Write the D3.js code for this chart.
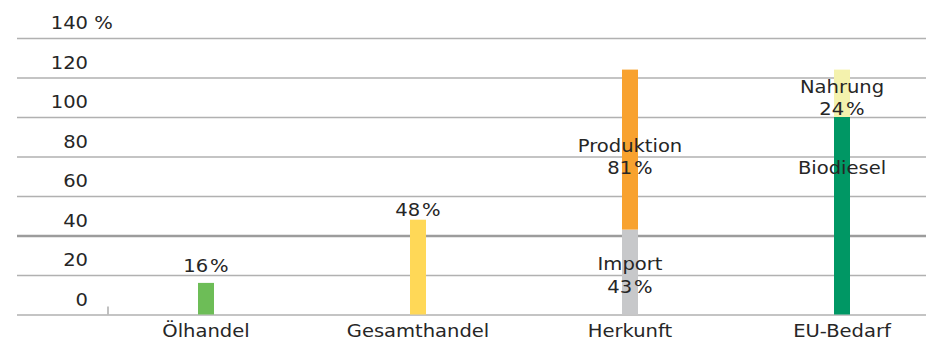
<!DOCTYPE html>
<html>
<head>
<meta charset="utf-8">
<script src="https://cdn.jsdelivr.net/npm/d3@7"></script>
<style>
  html, body { margin: 0; padding: 0; background: #fff; }
  svg { display: block; }
  text { font-family: "DejaVu Sans", Verdana, sans-serif; font-size: 17px; fill: #262626; }
</style>
</head>
<body>
<svg id="chart" width="926" height="342"></svg>
<script>
// Categories along the x axis
const categories = ["Ölhandel", "Gesamthandel", "Herkunft", "EU-Bedarf"];

// Bar segments (stacked within their category, bottom to top)
const segCategory = ["Ölhandel", "Gesamthandel", "Herkunft", "Herkunft", "EU-Bedarf", "EU-Bedarf"];
const segName     = ["", "", "Import", "Produktion", "Biodiesel", "Nahrung"];
const segValues   = [16, 48, 43, 81, 100, 24];
const segShowValue = [true, true, true, true, false, true];
const segColors   = ["#6dbd57", "#ffd857", "#c7c8ca", "#f8a22f", "#009764", "#f4f2ad"];

// Value axis ticks
const yTicks = [0, 20, 40, 60, 80, 100, 120, 140];

// Label placement: "above" the bar or "inside" the segment, with a small vertical nudge
const labelMode = ["above", "above", "inside", "inside", "inside", "inside"];
const labelNudge = [-11, -4, -2, 2.4, -41.7, -0.6];

const W = 926, H = 342;
const svg = d3.select("#chart");
const STRETCH = 1.15;   // wide lettering
const LINE = 22.5;

const y = d3.scaleLinear().domain([0, 140]).range([314.5, 38]);
const x = d3.scalePoint().domain(categories).range([100, 948]).padding(0.5);

const pct = v => v + "\u200a%";

// helper: stretched text anchored at (px, py)
function label(parent, px, py, str, anchor) {
  return parent.append("g")
    .attr("transform", `translate(${px},${py}) scale(${STRETCH},1)`)
    .append("text")
    .attr("text-anchor", anchor || "middle")
    .text(str);
}

// Gridlines + value labels via a left axis
const yAxis = d3.axisLeft(y).tickValues(yTicks).tickSize(W - 17).tickFormat(d => d);
const gy = svg.append("g").attr("transform", `translate(${W},0)`).call(yAxis);
gy.select(".domain").remove();
gy.selectAll(".tick line")
  .attr("stroke", d => d === 40 ? "#9c9c9c" : "#b1b1b1")
  .attr("stroke-width", d => d === 40 ? 2.4 : 1.6);
gy.selectAll(".tick text").each(function(d) {
  const t = d3.select(this);
  t.attr("x", 0).attr("y", 0).attr("dy", null)
   .attr("text-anchor", "end")
   .attr("transform", `translate(${88 - W},-9.5) scale(${STRETCH},1)`)
   .attr("fill", "#262626");
});
gy.attr("font-family", null).attr("font-size", null);
// unit after the top tick
label(svg, 88, y(yTicks[yTicks.length - 1]) - 9.5, "\u00a0%", "start");

// Small tick at the start of the category axis
svg.append("line")
  .attr("x1", 108).attr("x2", 108)
  .attr("y1", y(0) - 8).attr("y2", y(0))
  .attr("stroke", "#b1b1b1").attr("stroke-width", 1.6);

// Stack segments
const base = {};
const segs = segValues.map((v, i) => {
  const c = segCategory[i];
  const b0 = base[c] || 0;
  base[c] = b0 + v;
  return { i, c, v, y0: b0, y1: b0 + v };
});

const BAR_W = 16;
svg.append("g").selectAll("rect")
  .data(segs)
  .join("rect")
  .attr("x", d => x(d.c) - BAR_W / 2)
  .attr("width", BAR_W)
  .attr("y", d => y(d.y1))
  .attr("height", d => y(d.y0) - y(d.y1))
  .attr("fill", d => segColors[d.i]);

// Segment labels
const gl = svg.append("g");
segs.forEach(d => {
  const cx = x(d.c);
  const lines = [];
  if (segName[d.i]) lines.push(segName[d.i]);
  if (segShowValue[d.i]) lines.push(pct(d.v));
  let b;
  if (labelMode[d.i] === "above") {
    b = y(d.y1) + labelNudge[d.i];
  } else {
    b = (y(d.y0) + y(d.y1)) / 2 + labelNudge[d.i];
  }
  lines.forEach((s, k) => label(gl, cx, b + k * LINE, s));
});

// Category labels
const gx = svg.append("g");
categories.forEach(c => label(gx, x(c), 337, c));
</script>
</body>
</html>
